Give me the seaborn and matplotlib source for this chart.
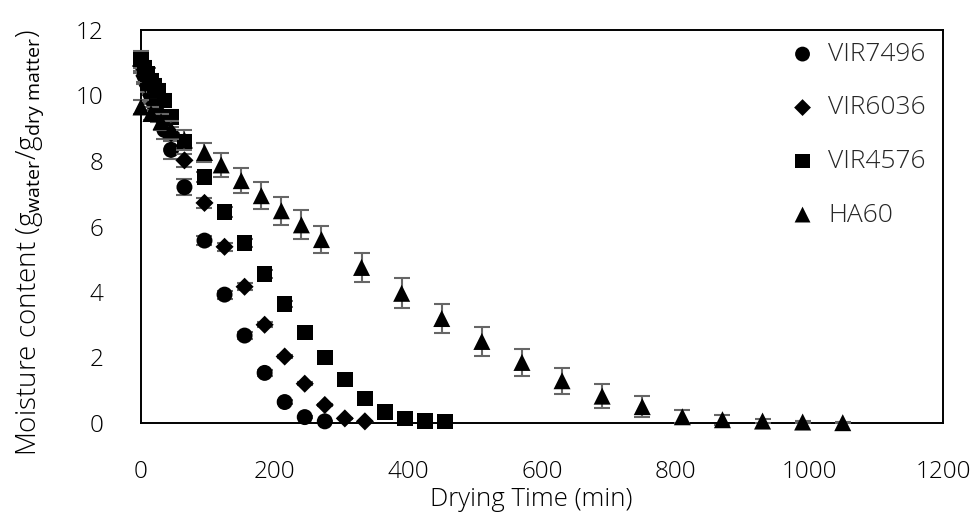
import matplotlib
matplotlib.use("Agg")
import matplotlib.pyplot as plt
import seaborn as sns

# ---------------- data ----------------
series_names = ["VIR7496", "VIR6036", "VIR4576", "HA60"]

t_vir7496 = [0, 5, 10, 15, 20, 25, 35, 45, 65, 95, 125, 155, 185, 215, 245, 275]
m_vir7496 = [11.0, 10.6, 10.3, 10.0, 9.7, 9.45, 8.95, 8.34, 7.2, 5.57, 3.92, 2.67, 1.53, 0.64, 0.18, 0.05]
e_vir7496 = [0.25, 0.25, 0.25, 0.25, 0.25, 0.25, 0.27, 0.27, 0.24, 0.15, 0.12, 0.1, 0.08, 0.05, 0.03, 0.02]

t_vir6036 = [0, 5, 10, 15, 20, 25, 35, 45, 65, 95, 125, 155, 185, 215, 245, 275, 305, 335]
m_vir6036 = [10.9, 10.6, 10.3, 10.0, 9.75, 9.5, 9.2, 8.85, 8.02, 6.72, 5.38, 4.16, 3.0, 2.03, 1.2, 0.55, 0.14, 0.05]
e_vir6036 = [0.2, 0.2, 0.2, 0.2, 0.2, 0.2, 0.2, 0.2, 0.2, 0.15, 0.12, 0.1, 0.08, 0.06, 0.04, 0.03, 0.02, 0.01]

t_vir4576 = [0, 5, 10, 15, 20, 25, 35, 45, 65, 95, 125, 155, 185, 215, 245, 275, 305, 335, 365, 395, 425, 455]
m_vir4576 = [11.1, 10.85, 10.65, 10.45, 10.3, 10.15, 9.85, 9.35, 8.6, 7.52, 6.45, 5.49, 4.55, 3.63, 2.76, 2.0, 1.33, 0.75, 0.33, 0.14, 0.06, 0.04]
e_vir4576 = [0.25, 0.2, 0.2, 0.2, 0.2, 0.2, 0.2, 0.2, 0.2, 0.15, 0.15, 0.12, 0.12, 0.1, 0.1, 0.08, 0.06, 0.05, 0.03, 0.02, 0.01, 0.01]

t_ha60 = [0, 15, 30, 45, 65, 95, 120, 150, 180, 210, 240, 270, 330, 390, 450, 510, 570, 630, 690, 750, 810, 870, 930, 990, 1050]
m_ha60 = [9.65, 9.45, 9.2, 8.95, 8.64, 8.26, 7.88, 7.4, 6.94, 6.48, 6.05, 5.6, 4.75, 3.96, 3.19, 2.49, 1.85, 1.29, 0.82, 0.5, 0.19, 0.1, 0.06, 0.03, 0.01]
e_ha60 = [0.2, 0.2, 0.25, 0.28, 0.3, 0.3, 0.36, 0.39, 0.42, 0.43, 0.44, 0.42, 0.45, 0.46, 0.45, 0.44, 0.42, 0.4, 0.37, 0.33, 0.2, 0.15, 0.07, 0.03, 0.02]

x_ticks = [0, 200, 400, 600, 800, 1000, 1200]
y_ticks = [0, 2, 4, 6, 8, 10, 12]
x_label = "Drying Time (min)"
y_label = r"Moisture content (g$_{\mathrm{water}}$/g$_{\mathrm{dry\ matter}}$)"

# ---------------- style ----------------
sns.set_theme(style="white")
FONT = "Open Sans"
plt.rcParams["font.family"] = [FONT, "DejaVu Sans"]
plt.rcParams["mathtext.fontset"] = "custom"
plt.rcParams["mathtext.rm"] = FONT
plt.rcParams["mathtext.it"] = FONT
FS = 17.5

fig = plt.figure(figsize=(9.77, 5.27), dpi=100)
ax = fig.add_axes([141 / 977, 1 - 423 / 527, 802 / 977, 393 / 527])

data = [
    (t_vir7496, m_vir7496, e_vir7496, "o", 132),
    (t_vir6036, m_vir6036, e_vir6036, "D", 85),
    (t_vir4576, m_vir4576, e_vir4576, "s", 126),
    (t_ha60, m_ha60, e_ha60, "^", 150),
]

for i, (name, (t, m, e, mk, s)) in enumerate(zip(series_names, data)):
    ax.errorbar(t, m, yerr=e, fmt="none", ecolor="#666666", elinewidth=1.5,
                capsize=5.5, capthick=1.5, zorder=2 + 2 * i, clip_on=False)
    sns.scatterplot(x=t, y=m, marker=mk, s=s, color="black", edgecolor="none",
                    linewidth=0, label=name, ax=ax, zorder=3 + 2 * i, clip_on=False)

ax.set_xlim(0, 1200)
ax.set_ylim(0, 12)
ax.set_xticks(x_ticks)
ax.set_yticks(y_ticks)
ax.tick_params(axis="both", length=0, pad=27, labelsize=FS, colors="black")
for lab in ax.get_xticklabels() + ax.get_yticklabels():
    lab.set_fontweight("light")

for sp in ax.spines.values():
    sp.set_visible(True)
    sp.set_color("black")
    sp.set_linewidth(1.4)

ax.set_xlabel(x_label, fontsize=18.5, color="black", fontweight="light")
ax.set_ylabel(y_label, fontsize=20, color="black", fontweight="light")
ax.xaxis.set_label_coords(0.487, -0.162)
ax.yaxis.set_label_coords(-0.118, 0.458)

leg = ax.legend(loc="upper left", bbox_to_anchor=(790 / 977, 1 - 42 / 527),
                bbox_transform=fig.transFigure, frameon=False, fontsize=19,
                handlelength=0.95, handletextpad=0.5, labelspacing=1.08,
                borderpad=0, borderaxespad=0, markerscale=0.93)
for txt in leg.get_texts():
    txt.set_fontweight("light")

fig.savefig("out.png", dpi=100, facecolor="white")
